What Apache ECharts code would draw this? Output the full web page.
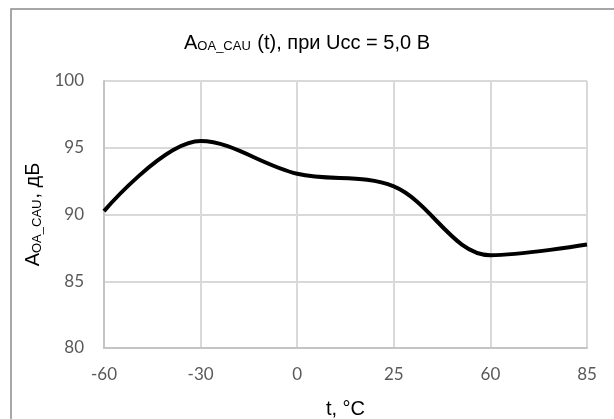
<!DOCTYPE html>
<html><head><meta charset="utf-8">
<script src="https://cdn.jsdelivr.net/npm/echarts@6/dist/echarts.min.js"></script>
<style>html,body{margin:0;padding:0;background:#fff}#c{width:614px;height:419px}</style>
</head><body><div id="c"></div>
<script>
var categories = ['-60', '-30', '0', '25', '60', '85'];
var gainValues = [90.25, 95.5, 93.05, 92.1, 86.95, 87.75];
var yMin = 80, yMax = 100, yStep = 5;

var chart = echarts.init(document.getElementById('c'));
var richMain = {
  a: {fontFamily: 'Liberation Sans', fontSize: 20, fontWeight: 'normal', color: '#000', lineHeight: 26, verticalAlign: 'bottom'},
  s: {fontFamily: 'Liberation Sans', fontSize: 13, fontWeight: 'normal', color: '#000', lineHeight: 12, verticalAlign: 'bottom', padding: [0, 1, 0, 0]}
};
chart.setOption({
  animation: false,
  graphic: [{type: 'rect', shape: {x: 11, y: 9, width: 700, height: 500}, style: {fill: 'none', stroke: '#8a8a8a', lineWidth: 1.5}}],
  title: {
    text: '{a|A}{s|OA_CAU}{a| (t), при Ucc = 5,0 В}',
    left: 'center', top: 22,
    textStyle: {fontFamily: 'Liberation Sans', fontSize: 20, fontWeight: 'normal', color: '#000', rich: richMain}
  },
  grid: {left: 104, right: 27, top: 81, bottom: 71, outerBoundsMode: 'none', containLabel: false},
  xAxis: {
    type: 'category', data: categories, boundaryGap: false,
    name: 't, °C', nameLocation: 'middle', nameGap: 51,
    nameTextStyle: {fontFamily: 'Liberation Sans', fontSize: 20, color: '#000'},
    axisLine: {lineStyle: {color: '#c4c4c4', width: 2}},
    axisTick: {show: false},
    axisLabel: {fontFamily: 'Lato', fontSize: 17, color: '#595959', margin: 18},
    splitLine: {show: true, lineStyle: {color: '#d9d9d9', width: 2}}
  },
  yAxis: {
    type: 'value', min: yMin, max: yMax, interval: yStep,
    name: '{a|A}{s|OA_CAU}{a|, дБ}', nameLocation: 'middle', nameGap: 56,
    nameTextStyle: {fontFamily: 'Liberation Sans', fontSize: 20, color: '#000', rich: richMain},
    axisLine: {show: true, lineStyle: {color: '#c4c4c4', width: 2}},
    axisTick: {show: false},
    axisLabel: {fontFamily: 'Lato', fontSize: 17, color: '#595959', margin: 20},
    splitLine: {show: true, lineStyle: {color: '#d9d9d9', width: 2}}
  },
  series: [{
    type: 'line', data: gainValues, smooth: 0.35, showSymbol: false,
    lineStyle: {color: '#000', width: 4}
  }]
});
</script></body></html>
